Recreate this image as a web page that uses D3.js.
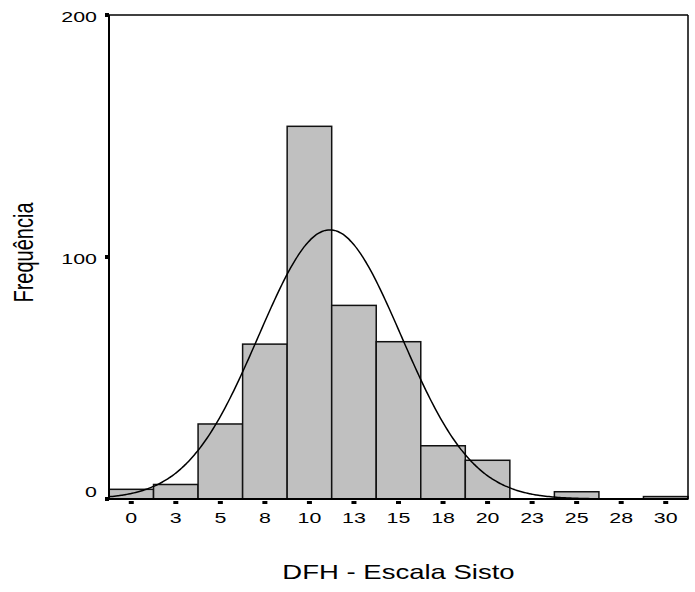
<!DOCTYPE html>
<html>
<meta charset="utf-8">
<style>
  body { margin: 0; background: #fff; }
  text { font-family: "Liberation Sans", Arial, sans-serif; fill: #000; }
</style>
<script src="https://d3js.org/d3.v7.min.js"></script>
<body>
<script>
  // histogram bins (centre of each 2.5-wide bin) and counts
  var binCenters = [0, 2.5, 5, 7.5, 10, 12.5, 15, 17.5, 20, 22.5, 25, 27.5, 30];
  var binLabels = ["0", "3", "5", "8", "10", "13", "15", "18", "20", "23", "25", "28", "30"];
  var counts = [4, 6, 31, 64, 154, 80, 65, 22, 16, 0, 3, 0, 1];
  var yTicks = [0, 100, 200];
  // normal curve parameters
  var curveMean = 11.15, curveSd = 4.0;

  var binWidth = 2.5;
  var n = d3.sum(counts);
  var svgWidth = 695, svgHeight = 592;
  var plotLeft = 109, plotRight = 688, plotTop = 15, plotBottom = 499;
  var sx = 1.38; // horizontal stretch of the original text

  var svg = d3.select("body").append("svg")
    .attr("width", svgWidth)
    .attr("height", svgHeight);

  var x = d3.scaleLinear()
    .domain([binCenters[0] - binWidth / 2, binCenters[binCenters.length - 1] + binWidth / 2])
    .range([plotLeft, plotRight]);
  var y = d3.scaleLinear().domain([0, 200]).range([plotBottom, plotTop]);

  // bars
  svg.selectAll(".bar")
    .data(counts)
    .enter()
    .append("rect")
    .attr("class", "bar")
    .attr("x", function(d, i) { return x(binCenters[i] - binWidth / 2); })
    .attr("width", function(d, i) { return x(binCenters[i] + binWidth / 2) - x(binCenters[i] - binWidth / 2); })
    .attr("y", function(d) { return y(d); })
    .attr("height", function(d) { return y(0) - y(d); })
    .attr("fill", "#c0c0c0")
    .attr("stroke", "#111")
    .attr("stroke-width", 1.5)
    .style("display", function(d) { return d > 0 ? null : "none"; });

  // normal curve
  var xs = d3.range(x.domain()[0], x.domain()[1] + 0.001, 0.1);
  var line = d3.line()
    .x(function(v) { return x(v); })
    .y(function(v) {
      var z = (v - curveMean) / curveSd;
      return y(n * binWidth * Math.exp(-z * z / 2) / (curveSd * Math.sqrt(2 * Math.PI)));
    })
    .curve(d3.curveMonotoneX);
  svg.append("path")
    .attr("d", line(xs))
    .attr("fill", "none")
    .attr("stroke", "#000")
    .attr("stroke-width", 1.5);

  // frame
  svg.append("line").attr("x1", plotLeft - 3).attr("x2", plotRight).attr("y1", plotTop).attr("y2", plotTop)
    .attr("stroke", "#000").attr("stroke-width", 1.5);
  svg.append("line").attr("x1", plotRight).attr("x2", plotRight).attr("y1", plotTop).attr("y2", plotBottom)
    .attr("stroke", "#000").attr("stroke-width", 1.5);
  svg.append("line").attr("x1", plotLeft).attr("x2", plotRight).attr("y1", plotBottom).attr("y2", plotBottom)
    .attr("stroke", "#000").attr("stroke-width", 2);
  svg.append("line").attr("x1", plotLeft).attr("x2", plotLeft).attr("y1", plotTop).attr("y2", plotBottom + 1)
    .attr("stroke", "#000").attr("stroke-width", 2);

  // y ticks
  svg.selectAll(".ytick")
    .data(yTicks)
    .enter()
    .append("rect")
    .attr("x", plotLeft - 4)
    .attr("y", function(d) { return y(d) - 2; })
    .attr("width", 4)
    .attr("height", 4)
    .attr("fill", "#000");

  svg.selectAll(".ylab")
    .data(yTicks)
    .enter()
    .append("text")
    .attr("text-anchor", "end")
    .attr("font-size", 15.5)
    .attr("transform", function(d) {
      return "translate(97," + Math.min(y(d) + 7, 497) + ") scale(" + sx + ",1)";
    })
    .text(function(d) { return d; });

  // x ticks
  svg.selectAll(".xtick")
    .data(binCenters)
    .enter()
    .append("rect")
    .attr("x", function(d) { return x(d) - 2.5; })
    .attr("y", plotBottom + 2)
    .attr("width", 5)
    .attr("height", 3)
    .attr("fill", "#000");

  svg.selectAll(".xlab")
    .data(binCenters)
    .enter()
    .append("text")
    .attr("text-anchor", "middle")
    .attr("font-size", 15.5)
    .attr("transform", function(d) {
      return "translate(" + x(d) + ",523) scale(" + sx + ",1)";
    })
    .text(function(d, i) { return binLabels[i]; });

  // titles
  svg.append("text")
    .attr("text-anchor", "middle")
    .attr("font-size", 21)
    .attr("transform", "translate(" + (plotLeft + plotRight) / 2 + ",579) scale(1.31,1)")
    .text("DFH - Escala Sisto");

  svg.append("text")
    .attr("text-anchor", "middle")
    .attr("font-size", 20)
    .attr("transform", "translate(33,252.5) scale(" + sx + ",1) rotate(-90)")
    .text("Frequência");
</script>
</body>
</html>
